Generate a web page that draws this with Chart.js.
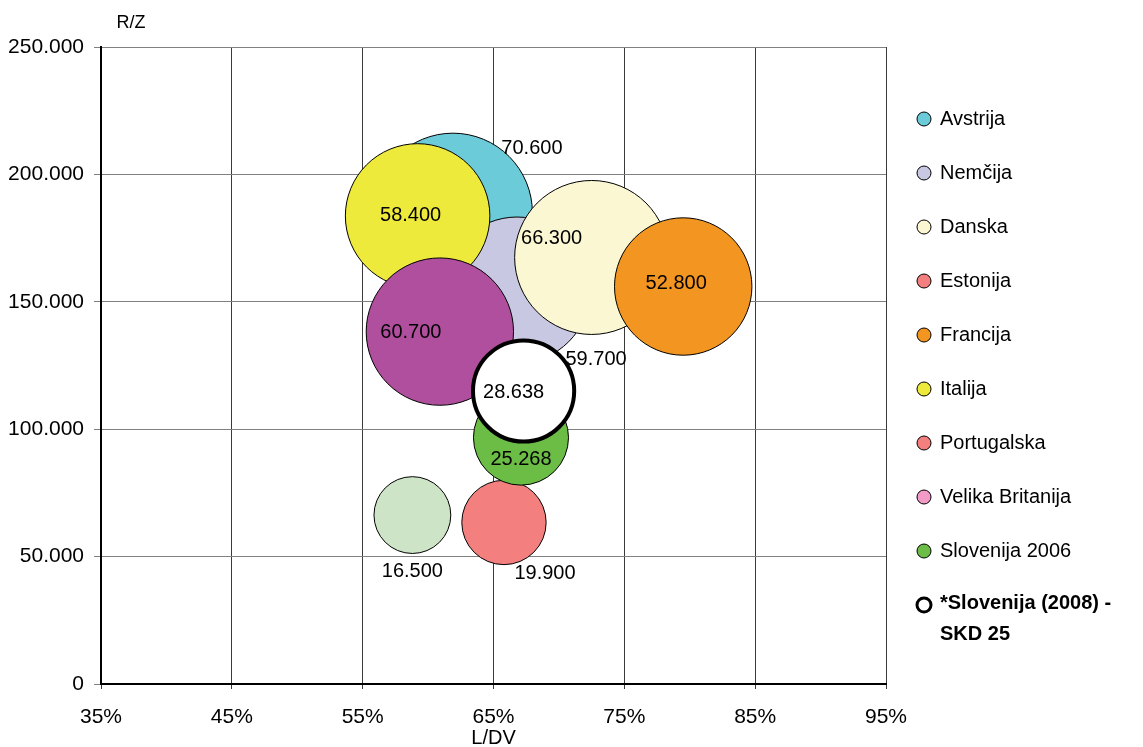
<!DOCTYPE html>
<html>
<head>
<meta charset="utf-8">
<script src="https://cdn.jsdelivr.net/npm/chart.js@4.4.1/dist/chart.umd.min.js"></script>
<style>
  body { margin: 0; background: #fff; }
  #wrap { width: 1143px; height: 747px; }
</style>
</head>
<body>
<div id="wrap"><canvas id="chart" width="1143" height="747"></canvas></div>
<script>
// Chart data
const countries = ['Avstrija', 'Nemčija', 'Danska', 'Estonija', 'Francija', 'Italija',
  'Portugalska', 'Velika Britanija', 'Slovenija 2006', '*Slovenija (2008) - SKD 25'];
const ldv = [61.9, 66.8, 72.5, 65.8, 79.5, 59.2, 58.8, 60.9, 67.1, 67.3];          // x, %
const rz = [185000, 154600, 167400, 63400, 156000, 183700, 66300, 138300, 96700, 115000]; // y
const sizes = [70600, 59700, 66300, 19900, 52800, 58400, 16500, 60700, 25268, 28638];
const xTicks = [35, 45, 55, 65, 75, 85, 95];
const yTicks = [0, 50000, 100000, 150000, 200000, 250000];

// Styles
const fills = ['#6ccbd8', '#c8c8e2', '#faf7d2', '#f47f7f', '#f39621', '#eeea3c',
  '#cde5c6', '#b04f9e', '#6bbd45', '#ffffff'];
const legendFills = ['#6ccbd8', '#c8c8e2', '#faf7d2', '#f47f7f', '#f39621', '#eeea3c',
  '#f47f7f', '#f39ac7', '#6bbd45', '#ffffff'];
// label offsets from bubble centre (px)
const labelOffsets = [[79, -64], [79, 69], [-40, -19], [41, 51], [-7, -3], [-7, 0],
  [0, 56], [-29, 1], [0, 22], [-10, 2]];
const FONT = '"Liberation Sans", Arial, sans-serif';
const SIZE_K = 0.299;

const fmtThousands = v => String(v).replace(/\B(?=(\d{3})+(?!\d))/g, '.');

const datasets = countries.map((name, i) => ({
  label: name,
  data: [{ x: ldv[i], y: rz[i], r: Math.sqrt(sizes[i]) * SIZE_K }],
  backgroundColor: fills[i],
  borderColor: '#000',
  borderWidth: i === 9 ? 4 : 1,
  hoverBorderWidth: i === 9 ? 4 : 1,
  order: countries.length - i
}));

// Value labels next to bubbles
const bubbleLabels = {
  id: 'bubbleLabels',
  afterDatasetsDraw(chart) {
    const ctx = chart.ctx;
    ctx.save();
    ctx.font = '20px ' + FONT;
    ctx.fillStyle = '#000';
    ctx.textAlign = 'center';
    ctx.textBaseline = 'middle';
    chart.data.datasets.forEach((ds, i) => {
      const el = chart.getDatasetMeta(i).data[0];
      const [dx, dy] = labelOffsets[i];
      ctx.fillText(fmtThousands(sizes[i]), el.x + dx, el.y + dy);
    });
    ctx.restore();
  }
};

// Right-hand legend and top y-axis title
const sideLegend = {
  id: 'sideLegend',
  afterDraw(chart) {
    const ctx = chart.ctx;
    ctx.save();
    ctx.textBaseline = 'middle';
    ctx.fillStyle = '#000';
    ctx.font = '18px ' + FONT;
    ctx.textAlign = 'center';
    ctx.fillText('R/Z', 131, 23);

    ctx.textAlign = 'left';
    countries.forEach((name, i) => {
      const y = 119 + i * 54;
      ctx.beginPath();
      ctx.arc(924, y, 7, 0, Math.PI * 2);
      ctx.fillStyle = legendFills[i];
      ctx.fill();
      ctx.lineWidth = i === 9 ? 3 : 1;
      ctx.strokeStyle = '#000';
      ctx.stroke();
      ctx.fillStyle = '#000';
      if (i === 9) {
        ctx.font = 'bold 20px ' + FONT;
        ctx.fillText('*Slovenija (2008) -', 940, y - 2);
        ctx.fillText('SKD 25', 940, y + 29);
      } else {
        ctx.font = '20px ' + FONT;
        ctx.fillText(name, 940, y);
      }
    });
    ctx.restore();
  }
};

new Chart(document.getElementById('chart'), {
  type: 'bubble',
  data: { datasets },
  options: {
    responsive: false,
    animation: false,
    layout: { autoPadding: false, padding: { top: 47, right: 257, left: 0, bottom: 0 } },
    plugins: {
      legend: { display: false },
      tooltip: { enabled: false }
    },
    scales: {
      x: {
        type: 'linear',
        min: xTicks[0],
        max: xTicks[xTicks.length - 1],
        afterBuildTicks: s => { s.ticks = xTicks.map(v => ({ value: v })); },
        afterFit: s => { s.height = 63; },
        border: { color: '#000', width: 2 },
        grid: { color: '#3a3a3a', lineWidth: 1, tickLength: 5 },
        ticks: {
          color: '#000', font: { family: FONT, size: 21 }, padding: 16,
          callback: v => v + '%'
        },
        title: {
          display: true, text: 'L/DV', color: '#000',
          font: { family: FONT, size: 20 }, padding: { top: 0, bottom: -3 }
        }
      },
      y: {
        type: 'linear',
        min: yTicks[0],
        max: yTicks[yTicks.length - 1],
        afterBuildTicks: s => { s.ticks = yTicks.map(v => ({ value: v })); },
        afterFit: s => { s.width = 101; },
        border: { color: '#000', width: 2 },
        grid: { color: '#808080', lineWidth: 1, tickLength: 7 },
        ticks: {
          color: '#000', font: { family: FONT, size: 21 }, padding: 10,
          callback: v => fmtThousands(v)
        }
      }
    }
  },
  plugins: [bubbleLabels, sideLegend]
});
</script>
</body>
</html>
